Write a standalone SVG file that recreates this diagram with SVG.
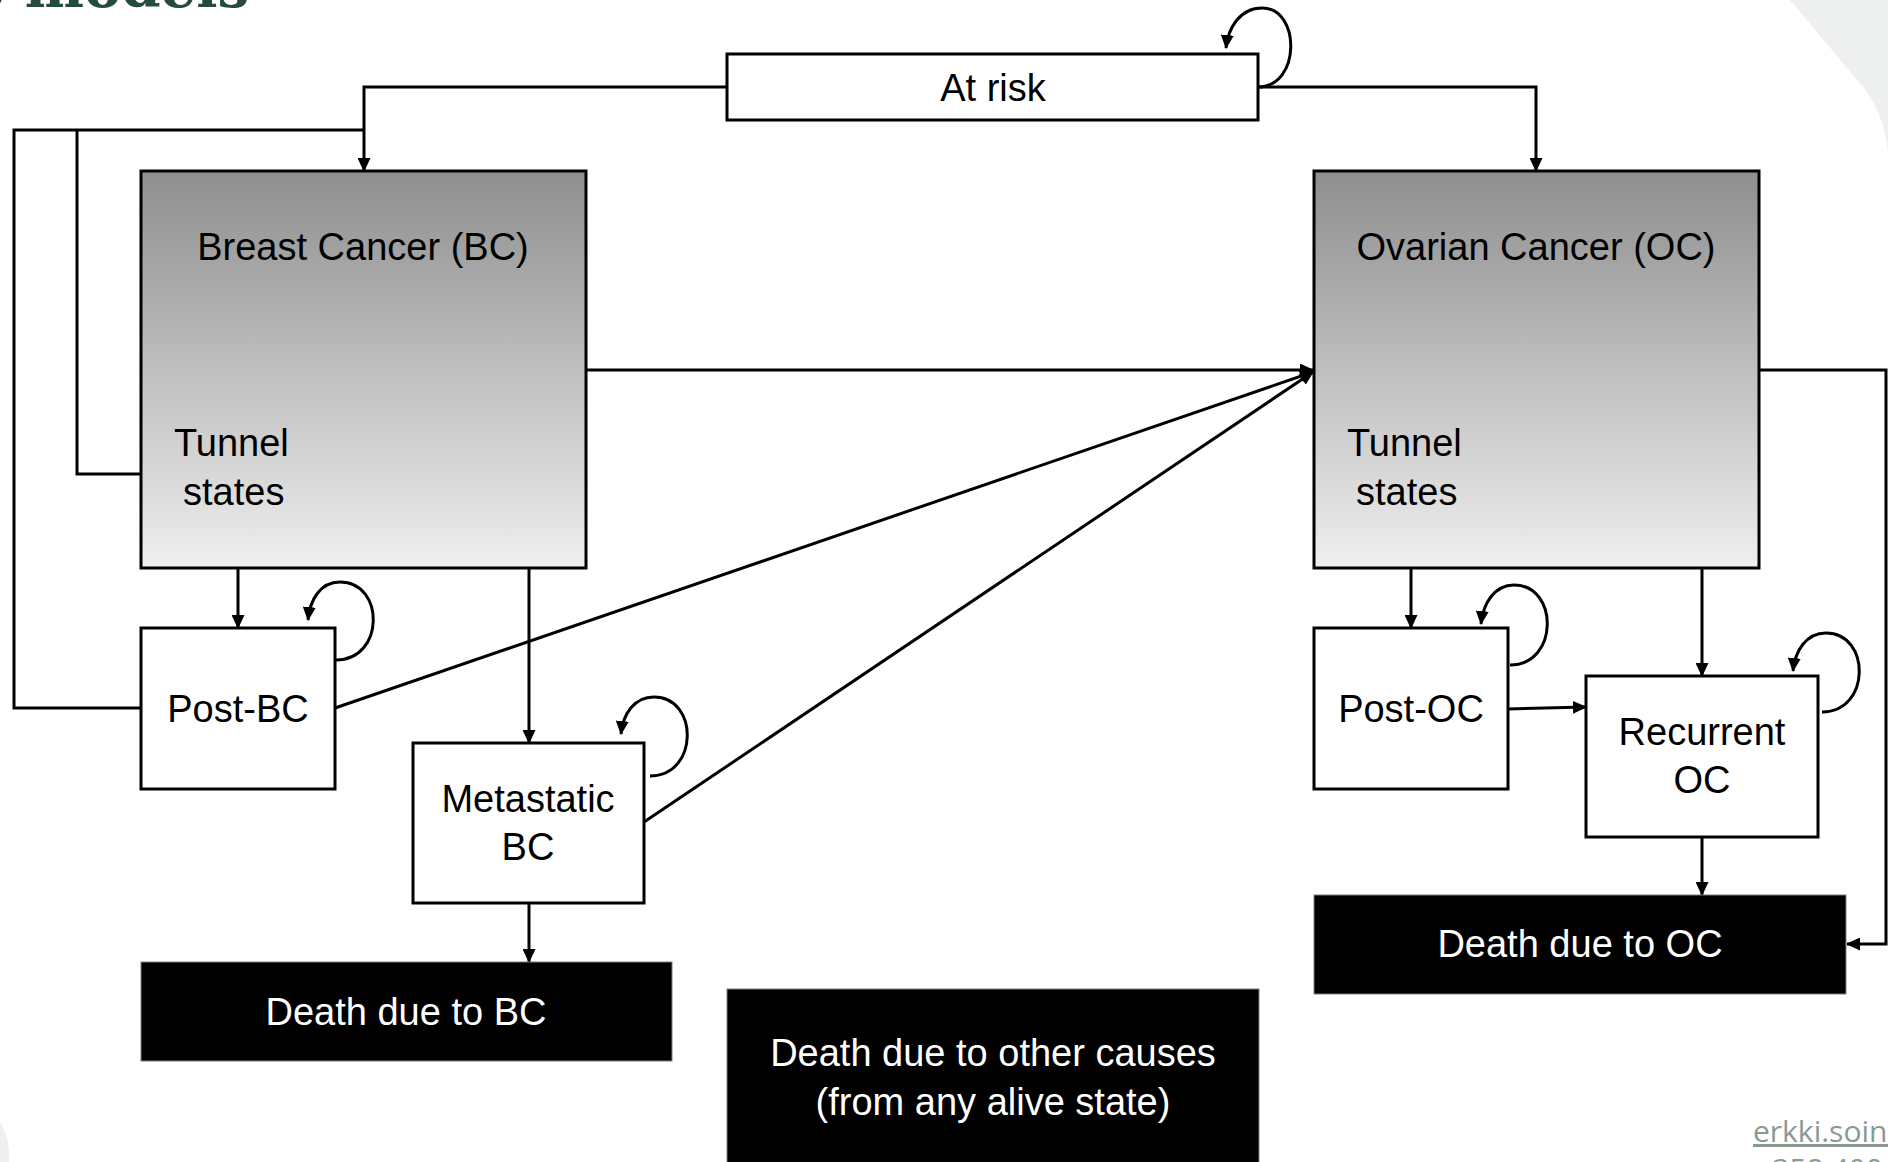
<svg xmlns="http://www.w3.org/2000/svg" width="1888" height="1162" viewBox="0 0 1888 1162">
<defs>
<linearGradient id="cancerGrad" x1="0" y1="0" x2="0" y2="1">
<stop offset="0" stop-color="#8e8e8e"/>
<stop offset="1" stop-color="#efefef"/>
</linearGradient>
<marker id="arr" markerUnits="userSpaceOnUse" markerWidth="14" markerHeight="13" refX="13" refY="6.5" orient="auto">
<path d="M0,0 L14,6.5 L0,13 Z" fill="#000"/>
</marker>
</defs>
<style>
.box{fill:#fff;stroke:#000;stroke-width:3}
.cancer{fill:url(#cancerGrad);stroke:#000;stroke-width:3}
.death{fill:#000;stroke:#7f7f7f;stroke-width:1}
.t{font-family:"Liberation Sans",Arial,sans-serif;font-size:38px;fill:#000}
.tc{text-anchor:middle}
.w{fill:#fff}
.conn path{fill:none;stroke:#000;stroke-width:3}
.arrow{marker-end:url(#arr)}
</style>
<rect width="1888" height="1162" fill="#fff"/>
<path d="M1790,0 L1863,87 C1880,110 1886,130 1888,153 L1888,0 Z" fill="#eef0ef"/>
<path d="M0,1122 C8,1135 10,1150 9,1162 L0,1162 Z" fill="#eef0ef"/>
<text x="249" y="7" text-anchor="end" font-family="'DejaVu Serif',serif" font-weight="bold" font-size="56" fill="#254a42">e models</text>

<g class="conn">
<path class="arrow" d="M727,87 H364 V171"/>
<path class="arrow" d="M1258,87 H1536 V171"/>
<path d="M141,474 H77 V130"/>
<path d="M141,708 H14 V130 H364"/>
<path class="arrow" d="M586,370 H1313"/>
<path class="arrow" d="M335,708 L1313,372"/>
<path class="arrow" d="M644,822 L1313,372"/>
<path class="arrow" d="M1759,370 H1886 V944 H1847"/>
<path class="arrow" d="M238,568 V628"/>
<path class="arrow" d="M529,568 V743"/>
<path class="arrow" d="M529,903 V962"/>
<path class="arrow" d="M1411,568 V628"/>
<path class="arrow" d="M1702,568 V676"/>
<path class="arrow" d="M1508,709 L1586,707"/>
<path class="arrow" d="M1702,837 V895"/>
<path class="arrow" d="M1258,87 C1301,87 1301,8 1262,8 C1240,8 1228,28 1226,48"/>
<path class="arrow" d="M336,660 C385,660 385,582 340,582 C320,582 310,600 308,620"/>
<path class="arrow" d="M650,776 C699,776 699,697 654,697 C634,697 623,714 621,734"/>
<path class="arrow" d="M1510,665 C1559,665 1559,585 1514,585 C1494,585 1483,604 1481,624"/>
<path class="arrow" d="M1822,712 C1871,712 1871,633 1826,633 C1806,633 1795,651 1793,671"/>
</g>

<g id="at-risk">
<rect class="box" x="727" y="54" width="531" height="66"/>
<text class="t tc" x="993" y="101">At risk</text>
</g>
<g id="breast-cancer">
<rect class="cancer" x="141" y="171" width="445" height="397"/>
<text class="t tc" x="363" y="260">Breast Cancer (BC)</text>
<text class="t" x="174" y="456">Tunnel</text>
<text class="t" x="183" y="505">states</text>
</g>
<g id="ovarian-cancer">
<rect class="cancer" x="1314" y="171" width="445" height="397"/>
<text class="t tc" x="1536" y="260">Ovarian Cancer (OC)</text>
<text class="t" x="1347" y="456">Tunnel</text>
<text class="t" x="1356" y="505">states</text>
</g>
<g id="post-bc">
<rect class="box" x="141" y="628" width="194" height="161"/>
<text class="t tc" x="238" y="722">Post-BC</text>
</g>
<g id="metastatic-bc">
<rect class="box" x="413" y="743" width="231" height="160"/>
<text class="t tc" x="528" y="812">Metastatic</text>
<text class="t tc" x="528" y="860">BC</text>
</g>
<g id="death-bc">
<rect class="death" x="141" y="962" width="531" height="99"/>
<text class="t tc w" x="406" y="1025">Death due to BC</text>
</g>
<g id="post-oc">
<rect class="box" x="1314" y="628" width="194" height="161"/>
<text class="t tc" x="1411" y="722">Post-OC</text>
</g>
<g id="recurrent-oc">
<rect class="box" x="1586" y="676" width="232" height="161"/>
<text class="t tc" x="1702" y="745">Recurrent</text>
<text class="t tc" x="1702" y="793">OC</text>
</g>
<g id="death-oc">
<rect class="death" x="1314" y="895" width="532" height="99"/>
<text class="t tc w" x="1580" y="957">Death due to OC</text>
</g>
<g id="death-other">
<rect class="death" x="727" y="989" width="532" height="190"/>
<text class="t tc w" x="993" y="1066">Death due to other causes</text>
<text class="t tc w" x="993" y="1115">(from any alive state)</text>
</g>
<text x="1753" y="1142" font-family="'Open Sans',sans-serif" font-size="30" fill="#8a9a93" text-decoration="underline">erkki.soini</text>
<text x="1755" y="1180" font-family="'Open Sans',sans-serif" font-size="30" fill="#8a9a93">+358 400</text>
</svg>
